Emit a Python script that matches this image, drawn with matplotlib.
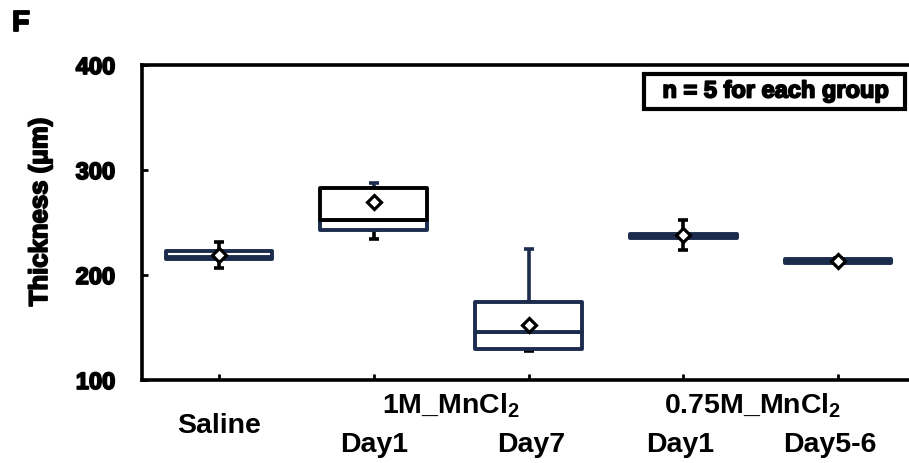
import matplotlib.pyplot as plt
import matplotlib.patheffects as pe
from matplotlib.patches import Rectangle

plt.rcParams['font.family'] = ['Liberation Sans', 'DejaVu Sans']
plt.rcParams['font.weight'] = 'bold'
plt.rcParams['mathtext.fontset'] = 'custom'
plt.rcParams['mathtext.rm'] = 'Liberation Sans:bold'
plt.rcParams['mathtext.it'] = 'Liberation Sans:bold'

# five-number summaries and means per group (thickness, um)
groups = ['Saline', '1M Day1', '1M Day7', '0.75M Day1', '0.75M Day5-6']
mins = [207, 234, 128, 224, 211]
q1 = [215, 243, 130, 235, 211]
medians = [217, 252, 146, 237, 213]
q3 = [223, 283, 174, 239, 215]
maxs = [231, 288, 225, 252, 216]
means = [219, 270, 152, 238, 213]

yticks = [100, 200, 300, 400]

navy = '#1c2c4c'
upper_edge = [navy, 'black', navy, navy, navy]
whisker_top = ['black', navy, navy, 'black', navy]

fig = plt.figure(figsize=(9.09, 4.63), dpi=100)
W, H = 909, 463
ax = fig.add_axes([141.6 / W, (H - 380) / H, (915.4 - 141.6) / W, (380 - 65) / H])

x = list(range(len(groups)))
width = 0.69

# whiskers go under the boxes
for i in x:
    ax.errorbar(i, q3[i], yerr=[[0], [maxs[i] - q3[i]]], fmt='none',
                ecolor=whisker_top[i], elinewidth=2.6, capsize=3.3, capthick=2.6, zorder=1)
    ax.errorbar(i, q1[i], yerr=[[q1[i] - mins[i]], [0]], fmt='none',
                ecolor='black', elinewidth=2.6, capsize=3.3, capthick=2.6, zorder=1)

lower_h = [m - a for m, a in zip(medians, q1)]
upper_h = [b - m for b, m in zip(q3, medians)]
ax.bar(x, lower_h, width=width, bottom=q1, color='white', edgecolor=navy,
       linewidth=2.8, joinstyle='round', zorder=2)
ax.bar(x, upper_h, width=width, bottom=medians, color='white',
       edgecolor=upper_edge, linewidth=2.8, joinstyle='round', zorder=3)

ax.plot(x, means, linestyle='none', marker='D', markersize=7.5,
        markerfacecolor='white', markeredgecolor='black', markeredgewidth=2.3,
        zorder=4)

ax.set_xlim(-0.5, 4.5)
ax.set_ylim(100, 400)
ax.set_yticks(yticks)
ax.set_xticks(x)
ax.set_xticklabels([])
for s in ax.spines.values():
    s.set_linewidth(2.6)
ax.tick_params(axis='both', direction='in', length=4, width=2)
ax.tick_params(axis='y', pad=19, labelsize=17)
heavy = [pe.withStroke(linewidth=1.3, foreground='black')]
for t in ax.get_yticklabels():
    t.set_fontweight('bold')
    t.set_path_effects(heavy)

# category labels under the axis
def px_y(py):
    return 1 - py / H

tr = ax.get_xaxis_transform()
def put(xd, py, s):
    y_ax = ax.transAxes.inverted().transform(
        fig.transFigure.transform((0, px_y(py))))[1]
    ax.text(xd, y_ax, s, transform=tr, ha='center', va='baseline', fontsize=20.5,
            fontweight='bold', clip_on=False)

put(0.0, 433, 'Saline')
put(1.5, 414, '1M_MnCl$_2$')
put(1.0, 452, 'Day1')
put(2.02, 452, 'Day7')
put(3.45, 414, '0.75M_MnCl$_2$')
put(2.98, 452, 'Day1')
put(3.95, 452, 'Day5-6')

fig.text(40 / W, px_y(212), 'Thickness (\u03bcm)', rotation=90, ha='center',
         va='center', fontsize=18.5, fontweight='bold', path_effects=heavy)
fig.text(12 / W, px_y(9), 'F', ha='left', va='top', fontsize=21,
         fontweight='bold', path_effects=heavy)

# sample size note
fig.add_artist(Rectangle((644 / W, px_y(109)), (905 - 644) / W, (109 - 73.5) / H,
                         transform=fig.transFigure, fill=False,
                         edgecolor='black', linewidth=3))
fig.text(776 / W, px_y(91), 'n = 5 for each group', ha='center', va='center',
         fontsize=17, fontweight='bold', path_effects=heavy)

fig.savefig('out.png', dpi=100)
